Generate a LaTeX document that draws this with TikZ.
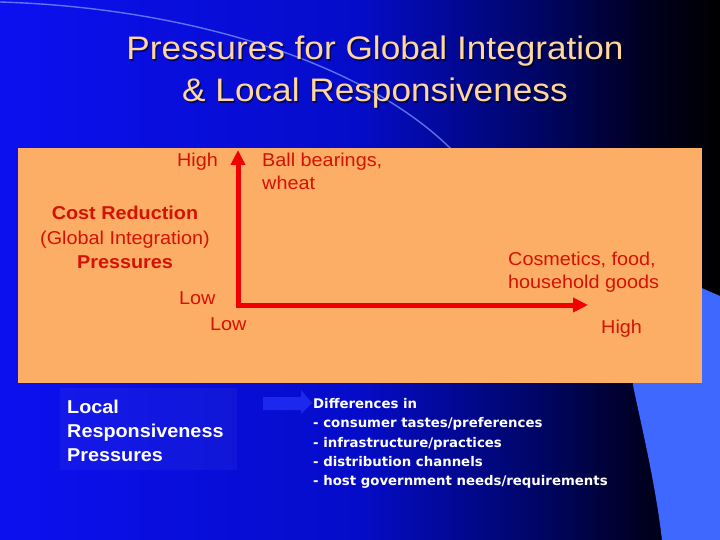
\documentclass[tikz,border=0pt]{standalone}
\usepackage{fontspec}
\setmainfont{Liberation Sans}
\newfontfamily\titlefont[FakeStretch=1.08]{Liberation Sans}
\newfontfamily\lblfont[FakeStretch=1.065]{Liberation Sans}
\newfontfamily\listfont{DejaVu Sans}
\usetikzlibrary{arrows.meta}
\definecolor{bgL}{RGB}{12,16,240}
\definecolor{bgM}{RGB}{5,12,200}
\definecolor{bgD}{RGB}{0,5,100}
\definecolor{bgE}{RGB}{0,0,30}
\definecolor{boxorange}{RGB}{253,174,102}
\definecolor{axisred}{RGB}{240,0,0}
\definecolor{lblred}{RGB}{212,18,4}
\definecolor{titlepeach}{RGB}{255,214,155}
\definecolor{lightblue}{RGB}{62,104,255}
\definecolor{arcblue}{RGB}{120,150,255}
\definecolor{faintarrow}{RGB}{28,40,238}
\pgfdeclarehorizontalshading{bgshade}{100bp}{color(0bp)=(bgL); color(25bp)=(bgL); color(50bp)=(bgM); color(62.5bp)=(bgD); color(70bp)=(bgE); color(75bp)=(black); color(100bp)=(black)}
\tikzset{
  titletext/.style={text=titlepeach, font=\titlefont\fontsize{32.6}{40}\selectfont, inner sep=0pt},
  titleshadow/.style={text=black, opacity=0.5, font=\titlefont\fontsize{32.6}{40}\selectfont, inner sep=0pt},
  redlbl/.style={text=lblred, font=\lblfont\fontsize{18.6}{23}\selectfont, inner sep=0pt},
  redbold/.style={text=lblred, font=\lblfont\fontsize{18.6}{23}\selectfont\bfseries, inner sep=0pt},
  whitebold/.style={text=white, font=\lblfont\fontsize{18.6}{23}\selectfont\bfseries, inner sep=0pt},
  listtext/.style={text=white, font=\listfont\fontsize{13.3}{19}\selectfont\bfseries, inner sep=0pt},
  axisline/.style={draw=axisred, line width=5pt, line join=miter,
    {Triangle[length=15pt,width=14pt]}-{Triangle[length=15pt,width=14pt]}}
}
\begin{document}
\begin{tikzpicture}[x=1pt,y=-1pt]
\useasboundingbox (0,0) rectangle (720,540);
% background
\fill[shading=bgshade] (0,0) rectangle (720,540);
% decorative arc and light blue shape
\draw[arcblue, line width=1.4pt, opacity=0.75] (0,2) .. controls (200,8) and (390,70) .. (470,170);
\fill[lightblue] (697,286) -- (720,296) -- (720,540) -- (662,540)
  .. controls (655,480) and (640,420) .. (633,385)
  .. controls (628,340) and (660,300) .. (697,286) -- cycle;
% title
\node[titleshadow, anchor=base] at (376.5,61.5) {Pressures for Global Integration};
\node[titleshadow, anchor=base] at (376.5,103.5) {\& Local Responsiveness};
\node[titletext, anchor=base] (t1) at (375,60) {Pressures for Global Integration};
\node[titletext, anchor=base] (t2) at (375,102) {\& Local Responsiveness};
% orange panel
\fill[boxorange] (18,148) rectangle (702,383);
% axes
\coordinate (o) at (238,305);
\coordinate (ytip) at (238,150);
\coordinate (xtip) at (588,305);
\draw[axisline] (ytip) -- (o) -- (xtip);
% labels
\node[redlbl, anchor=base east] (yhigh) at (218,167) {High};
\node[redlbl, anchor=base west] (ball1) at (262,167) {Ball bearings,};
\node[redlbl, anchor=base west] (ball2) at (262,190) {wheat};
\node[redbold, anchor=base] (cr1) at (125,220) {Cost Reduction};
\node[redlbl, anchor=base] (cr2) at (125,244) {(Global Integration)};
\node[redbold, anchor=base] (cr3) at (125,268) {Pressures};
\node[redlbl, anchor=base west] (ylow) at (179,304) {Low};
\node[redlbl, anchor=base west] (xlow) at (210,330) {Low};
\node[redlbl, anchor=base west] (cos1) at (508,265) {Cosmetics, food,};
\node[redlbl, anchor=base west] (cos2) at (508,288) {household goods};
\node[redlbl, anchor=base west] (xhigh) at (601,333) {High};
% lower part
\fill[white, opacity=0.04] (60,388) rectangle (237,470);
\node[whitebold, anchor=base west] (lr1) at (67,413) {Local};
\node[whitebold, anchor=base west] (lr2) at (67,437) {Responsiveness};
\node[whitebold, anchor=base west] (lr3) at (67,461) {Pressures};
\coordinate (fa) at (263,403);
\coordinate (fb) at (312,403);
\fill[faintarrow] (263,397) -- (301,397) -- (301,390) -- (312,403) -- (301,414) -- (301,410) -- (263,410) -- cycle;
\node[listtext, anchor=base west] (d1) at (313,408) {Differences in};
\node[listtext, anchor=base west] (d2) at (313,427) {- consumer tastes/preferences};
\node[listtext, anchor=base west] (d3) at (313,447) {- infrastructure/practices};
\node[listtext, anchor=base west] (d4) at (313,466) {- distribution channels};
\node[listtext, anchor=base west] (d5) at (313,485) {- host government needs/requirements};
\end{tikzpicture}
\end{document}
